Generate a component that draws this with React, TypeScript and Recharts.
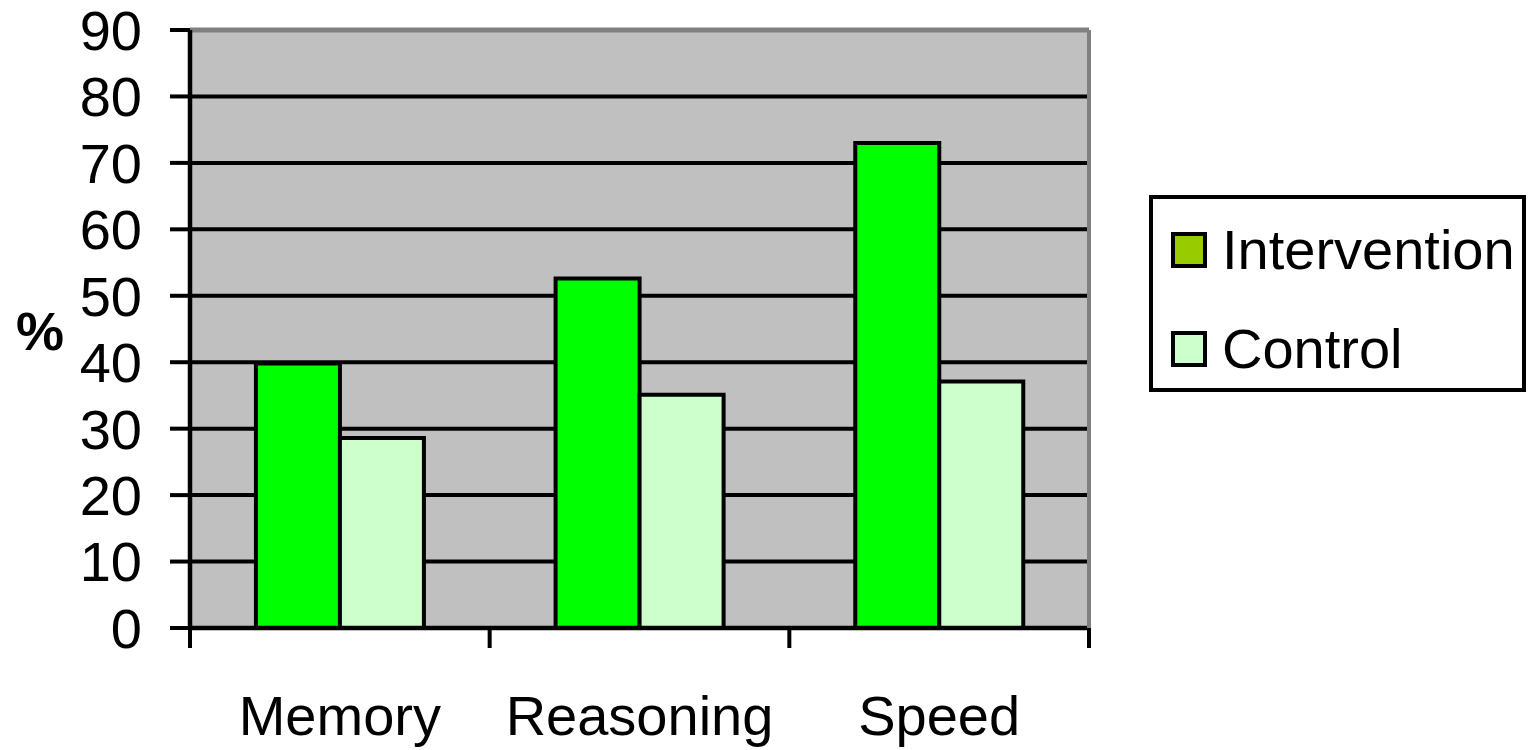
import React from 'react';
import { BarChart, Bar, XAxis, YAxis, CartesianGrid, ReferenceLine, Legend } from 'recharts';

const categories = ['Memory', 'Reasoning', 'Speed'];
const interventionValues = [39.8, 52.6, 73];
const controlValues = [28.6, 35.1, 37.1];
const yTicks = [0, 10, 20, 30, 40, 50, 60, 70, 80, 90];

const seriesNames = ['Intervention', 'Control'];
const barColors = ['#00ff00', '#ccffcc'];
const legendColors = ['#99cc00', '#ccffcc'];

const data = categories.map((name, i) => ({
  name,
  Intervention: interventionValues[i],
  Control: controlValues[i],
}));

const FONT = '"Liberation Sans", Arial, sans-serif';
const X_TICK_SIZE = 20;
const X_TICK_MARGIN = 47;
const LINE_W = 4;

// Category label plus tick marks on the category boundaries
const CategoryTick = (props: any) => {
  const { x, y, payload, index } = props;
  const half = payload && typeof payload.offset === 'number' && payload.offset > 0 ? payload.offset : 150;
  const lineBottom = y - X_TICK_MARGIN;
  const lineTop = lineBottom - X_TICK_SIZE;
  const isLast = index === categories.length - 1;
  return (
    <g>
      <line x1={x - half} x2={x - half} y1={lineTop} y2={lineBottom} stroke="#000" strokeWidth={LINE_W} />
      {isLast && (
        <line x1={x + half} x2={x + half} y1={lineTop} y2={lineBottom} stroke="#000" strokeWidth={LINE_W} />
      )}
      <text x={x} y={y} dy="0.71em" textAnchor="middle" fontSize={56} fontFamily={FONT} fill="#000">
        {payload.value}
      </text>
    </g>
  );
};

const LegendBox = () => (
  <div
    style={{
      position: 'relative',
      width: 377,
      height: 197,
      boxSizing: 'border-box',
      border: '4px solid #000',
      background: '#fff',
      fontFamily: FONT,
    }}
  >
    {seriesNames.map((name, i) => (
      <div
        key={name}
        style={{
          position: 'absolute',
          left: 18,
          top: (i === 0 ? 51 : 150) - 30,
          height: 60,
          display: 'flex',
          alignItems: 'center',
        }}
      >
        <div
          style={{
            width: 36,
            height: 36,
            boxSizing: 'border-box',
            border: '4px solid #000',
            background: legendColors[i],
          }}
        />
        <span style={{ marginLeft: 15, fontSize: 56, lineHeight: '60px', color: '#000', whiteSpace: 'nowrap' }}>
          {name}
        </span>
      </div>
    ))}
  </div>
);

export default function App() {
  return (
    <div style={{ position: 'absolute', left: 0, top: 0, width: 1528, height: 750, background: '#fff' }}>
      <BarChart
        width={1528}
        height={750}
        data={data}
        margin={{ top: 30, right: 435, left: 0, bottom: 0 }}
        barGap={0}
        barCategoryGap="22%"
      >
        <CartesianGrid
          vertical={false}
          stroke="#000"
          strokeWidth={LINE_W}
          fill="#c0c0c0"
          fillOpacity={1}
          yAxisId="left"
        />
        <XAxis
          dataKey="name"
          height={122}
          tickSize={X_TICK_SIZE}
          tickMargin={X_TICK_MARGIN}
          tickLine={false}
          axisLine={{ stroke: '#000', strokeWidth: LINE_W + 0.5 }}
          tick={<CategoryTick />}
          interval={0}
        />
        <YAxis
          yAxisId="left"
          width={190}
          domain={[0, 90]}
          ticks={yTicks}
          interval={0}
          tickSize={20}
          tickMargin={28}
          tickLine={{ stroke: '#000', strokeWidth: LINE_W }}
          axisLine={{ stroke: '#000', strokeWidth: LINE_W + 0.5 }}
          tick={{ fontSize: 56, fontFamily: FONT, fill: '#000' }}
          label={{
            value: '%',
            position: 'insideLeft',
            offset: 16,
            dy: 2,
            style: { fontSize: 54, fontWeight: 'bold', fontFamily: FONT, fill: '#000' },
          }}
        />
        <YAxis
          yAxisId="right"
          orientation="right"
          width={4}
          domain={[0, 90]}
          tick={false}
          tickLine={false}
          axisLine={{ stroke: '#808080', strokeWidth: 4 }}
        />
        <ReferenceLine yAxisId="left" y={90} stroke="#808080" strokeWidth={5} />
        <Bar
          yAxisId="left"
          dataKey="Intervention"
          fill={barColors[0]}
          stroke="#000"
          strokeWidth={LINE_W}
          isAnimationActive={false}
        />
        <Bar
          yAxisId="left"
          dataKey="Control"
          fill={barColors[1]}
          stroke="#000"
          strokeWidth={LINE_W}
          isAnimationActive={false}
        />
        <Legend
          layout="horizontal"
          verticalAlign="middle"
          align="center"
          content={<LegendBox />}
          wrapperStyle={{ position: 'absolute', left: 1149, top: 195, width: 377, height: 197 }}
        />
      </BarChart>
    </div>
  );
}
